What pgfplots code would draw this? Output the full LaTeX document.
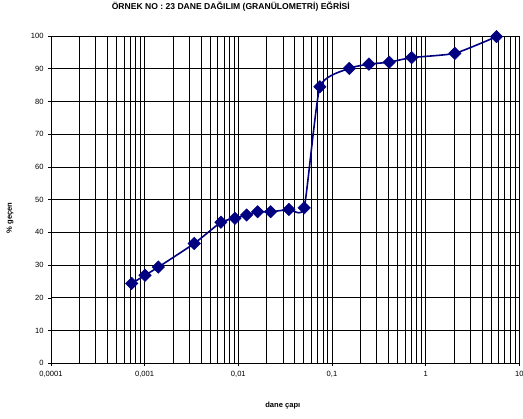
\documentclass[border=0pt]{standalone}
\usepackage{pgfplots}
\pgfplotsset{compat=1.18}
\usepackage{fontspec}
\setmainfont{Liberation Sans}
\definecolor{navy}{HTML}{000080}
\begin{document}
\begin{tikzpicture}
\begin{axis}[
  at={(0,0)}, anchor=south west,
  scale only axis, width=468.3bp, height=327.3bp,
  xmode=log, xmin=1e-4, xmax=10, ymin=0, ymax=100,
  xtick={1e-4,1e-3,1e-2,1e-1,1,10},
  xticklabels={{0,0001},{0,001},{0,01},{0,1},1,10},
  ytick={0,10,...,100},
  axis lines=left, axis line style={-, black, line width=0.8bp},
  tick align=outside, major tick length=3bp, minor tick length=0pt,
  tick style={black, line width=0.6bp},
  grid=both,
  major grid style={black, line width=0.7bp},
  minor grid style={black, line width=0.6bp},
  ticklabel style={font=\fontsize{7.6}{9}\selectfont},
  /pgf/number format/assume math mode=true,
  xticklabel style={yshift=-1bp},
  yticklabel style={xshift=-1bp},
  xlabel={dane çapı},
  xlabel style={at={(axis description cs:0.495,-0.13)}, anchor=center, font=\bfseries\fontsize{7.6}{9}\selectfont},
  ylabel={\% geçen},
  ylabel style={at={(axis description cs:-0.0876,0.444)}, anchor=center, rotate=0, font=\bfseries\fontsize{7.6}{9}\selectfont},
  title={ÖRNEK NO : 23 DANE DAĞILIM (GRANÜLOMETRİ) EĞRİSİ},
  title style={at={(axis description cs:0.384,1.073)}, anchor=center, font=\bfseries\fontsize{8.6}{10}\selectfont},
  clip=false,
]
\addplot[color=navy, line width=1.6bp, smooth, tension=0.3,
  mark=square*, mark size=4.4bp, mark options={rotate=45, fill=navy, draw=navy, line width=0.5bp}]
coordinates {
 (0.000727,24.4) (0.00101,26.9) (0.0014,29.4) (0.00338,36.6) (0.00652,43.1)
 (0.0092,44.3) (0.01227,45.3) (0.01608,46.3) (0.02213,46.3) (0.0347,47.0)
 (0.0505,47.5) (0.0743,84.5) (0.153,90.1) (0.248,91.4) (0.408,92.0)
 (0.708,93.4) (2.05,94.7) (5.71,99.8)
};
\end{axis}
\pgfresetboundingbox
\useasboundingbox (-51bp,-55.7bp) rectangle (472bp,363.3bp);
\end{tikzpicture}
\end{document}
